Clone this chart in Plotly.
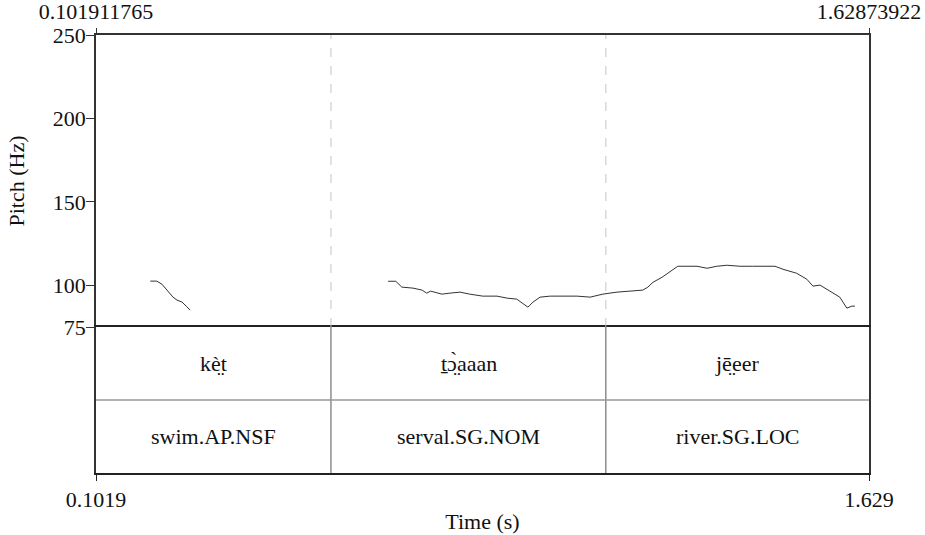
import plotly.graph_objects as go

T_START = 0.101911765
T_END = 1.62873922

# pitch track (s, Hz), two voiced stretches
kt_time = [0.209, 0.222, 0.232, 0.244, 0.254, 0.262, 0.272, 0.280, 0.288]
kt_pitch = [102.5, 102.5, 100.7, 96.5, 92.9, 91.1, 89.9, 87.5, 85.1]

rest_time = [0.679, 0.694, 0.706, 0.728, 0.746, 0.755, 0.763, 0.771, 0.785, 0.801,
             0.821, 0.840, 0.866, 0.894, 0.914, 0.933, 0.945, 0.955, 0.965, 0.979,
             0.999, 1.024, 1.052, 1.078, 1.103, 1.131, 1.162, 1.182, 1.192, 1.202,
             1.220, 1.236, 1.251, 1.269, 1.289, 1.309, 1.328, 1.348, 1.374, 1.399,
             1.419, 1.443, 1.459, 1.486, 1.506, 1.518, 1.532, 1.551, 1.571, 1.585,
             1.595, 1.601]
rest_pitch = [102.4, 102.4, 98.9, 98.3, 97.1, 95.3, 96.5, 95.9, 94.7, 95.3,
              95.9, 94.7, 93.5, 93.5, 92.3, 91.7, 89.3, 86.9, 89.9, 92.9,
              93.5, 93.5, 93.5, 92.9, 94.7, 95.9, 96.5, 97.1, 98.9, 101.8,
              104.8, 108.4, 111.4, 111.4, 111.4, 110.2, 111.4, 112.0, 111.4, 111.4,
              111.4, 111.4, 109.6, 107.2, 103.6, 99.5, 100.1, 96.5, 92.9, 86.3,
              87.5, 87.5]

# text grid
boundaries = [0.566, 1.109]
words = ["kè̤t", "ṯɔ̤̀aaan", "jē̤eer"]
glosses = ["swim.AP.NSF", "serval.SG.NOM", "river.SG.LOC"]

pitch_ticks = [75, 100, 150, 200, 250]

FONT = "Liberation Serif, Times New Roman, serif"
FS = 22

fig = go.Figure()
fig.add_trace(go.Scatter(
    x=kt_time + [None] + rest_time,
    y=kt_pitch + [None] + rest_pitch,
    mode="lines", line=dict(color="#333", width=1),
    xaxis="x", yaxis="y", showlegend=False, hoverinfo="skip",
))
# invisible trace to activate top axis
fig.add_trace(go.Scatter(x=[T_START, T_END], y=[None, None], xaxis="x2", yaxis="y",
                         showlegend=False, hoverinfo="skip"))

edges = [T_START] + boundaries + [T_END]
mids = [(a + b) / 2 for a, b in zip(edges[:-1], edges[1:])]

shapes = []
for b in boundaries:
    shapes.append(dict(type="line", xref="x", yref="y domain", x0=b, x1=b, y0=0, y1=1,
                       line=dict(color="#c4c4c4", width=1, dash="dash")))
    shapes.append(dict(type="line", xref="x", yref="y2", x0=b, x1=b, y0=0, y1=2,
                       line=dict(color="#555", width=1)))
shapes.append(dict(type="line", xref="x domain", yref="y2", x0=0, x1=1, y0=1, y1=1,
                   line=dict(color="#999", width=1.5)))

annotations = []
for m, w in zip(mids, words):
    annotations.append(dict(x=m, y=1.5, xref="x", yref="y2", text=w, showarrow=False,
                            font=dict(family=FONT, size=FS, color="#111")))
for m, g in zip(mids, glosses):
    annotations.append(dict(x=m, y=0.5, xref="x", yref="y2", text=g, showarrow=False,
                            font=dict(family=FONT, size=FS, color="#111")))

axis_font = dict(family=FONT, size=FS, color="#111")

fig.update_layout(
    width=925, height=535,
    margin=dict(l=96, r=56, t=35, b=62, autoexpand=False),
    plot_bgcolor="white", paper_bgcolor="white",
    font=axis_font,
    shapes=shapes, annotations=annotations,
    xaxis=dict(
        range=[T_START, T_END], anchor="y2", side="bottom", automargin=False,
        showline=True, linecolor="#222", linewidth=1.5, mirror=True,
        ticks="outside", ticklen=6, tickcolor="#222", tickfont=axis_font,
        tickvals=[T_START, T_END], ticktext=["0.1019", "1.629"],
        showgrid=False, zeroline=False,
        title=dict(text="Time (s)", standoff=2, font=axis_font),
    ),
    xaxis2=dict(
        range=[T_START, T_END], overlaying="x", anchor="y", side="top", automargin=False,
        showline=True, linecolor="#333", linewidth=1.5,
        ticks="outside", ticklen=5, tickcolor="#333", tickfont=axis_font,
        ticklabelstandoff=0,
        tickvals=[T_START, T_END], ticktext=["0.101911765", "1.62873922"],
        showgrid=False, zeroline=False,
    ),
    yaxis=dict(
        domain=[1 / 3, 1], anchor="x", range=[75, 250], automargin=False,
        showline=True, linecolor="#333", linewidth=1.5, mirror=True,
        ticks="outside", ticklen=8, tickcolor="#333", tickfont=axis_font,
        ticklabelstandoff=-4,
        tickvals=pitch_ticks, showgrid=False, zeroline=False,
        title=dict(text="Pitch (Hz)", standoff=22, font=axis_font),
    ),
    yaxis2=dict(
        domain=[0, 1 / 3], anchor="x", range=[0, 2], automargin=False,
        showline=True, linecolor="#333", linewidth=1.5, mirror=True,
        showticklabels=False, ticks="", showgrid=False, zeroline=False,
    ),
)

# drop the default page margin so the figure fills the window
fig.write_html("out.html", config={"displayModeBar": False},
               post_script="document.body.style.margin='0';")
